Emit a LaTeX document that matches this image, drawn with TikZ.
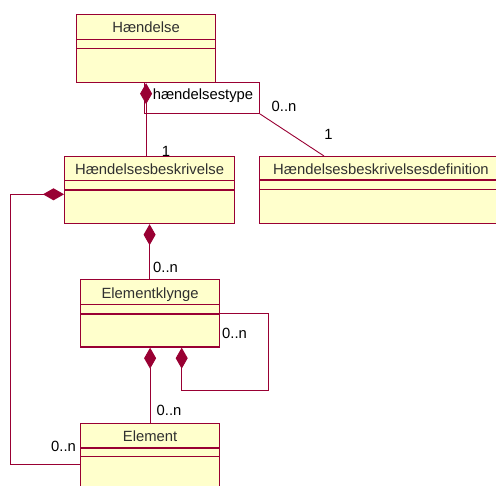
\documentclass[tikz,border=0pt]{standalone}
\usepackage{fontspec}
\setmainfont{Liberation Sans}
\usetikzlibrary{arrows.meta,calc}
\definecolor{umlred}{HTML}{990033}
\definecolor{umlfill}{HTML}{FFFFCC}
\definecolor{umltext}{HTML}{303030}
\begin{document}
\begin{tikzpicture}[x=1pt,y=-1pt,
  every node/.style={font=\fontsize{14.8}{17}\selectfont},
  cls/.style={draw=umlred, fill=umlfill, line width=1.2pt, inner sep=0pt, anchor=north west},
  sep/.style={draw=umlred, line width=1.2pt},
  clsname/.style={anchor=base, text=umltext, inner sep=0pt},
  mult/.style={anchor=base, inner sep=0pt},
  conn/.style={draw=umlred, line width=0.9pt},
  comp/.style={conn, {Diamond[length=21pt,width=12pt,fill=umlred]}-},
]
\useasboundingbox (0,0) rectangle (496,486);
\begin{scope}
\clip (0,0) rectangle (496,486);

% classes
\node[cls, minimum width=139pt, minimum height=68pt] (hand) at (76,14) {};
\node[clsname] at ($(hand.north)+(0,18.7)$) {Hændelse};
\draw[sep] ($(hand.north west)+(0,25.3)$) -- ($(hand.north east)+(0,25.3)$);
\draw[sep] ($(hand.north west)+(0,34.7)$) -- ($(hand.north east)+(0,34.7)$);

\node[cls, minimum width=170pt, minimum height=67pt] (hb) at (64,156) {};
\node[clsname] at ($(hb.north)+(0,19)$) {Hændelsesbeskrivelse};
\draw[sep] ($(hb.north west)+(0,24.7)$) -- ($(hb.north east)+(0,24.7)$);
\draw[sep] ($(hb.north west)+(0,34)$) -- ($(hb.north east)+(0,34)$);

\node[cls, minimum width=250pt, minimum height=67pt] (hbd) at (259,156) {};
\node[clsname] at ($(hbd.north west)+(122,18.3)$) {Hændelsesbeskrivelsesdefinition};
\draw[sep] ($(hbd.north west)+(0,24)$) -- ($(hbd.north east)+(0,24)$);
\draw[sep] ($(hbd.north west)+(0,33.3)$) -- ($(hbd.north east)+(0,33.3)$);

\node[cls, minimum width=139pt, minimum height=67.5pt] (ek) at (80,279) {};
\node[clsname] at ($(ek.north)+(0,19.3)$) {Elementklynge};
\draw[sep] ($(ek.north west)+(0,25.5)$) -- ($(ek.north east)+(0,25.5)$);
\draw[sep] ($(ek.north west)+(0,35)$) -- ($(ek.north east)+(0,35)$);

\node[cls, minimum width=139pt, minimum height=95pt] (el) at (80,423) {};
\node[clsname] at ($(el.north)+(0,18.7)$) {Element};
\draw[sep] ($(el.north west)+(0,25)$) -- ($(el.north east)+(0,25)$);
\draw[sep] ($(el.north west)+(0,33.5)$) -- ($(el.north east)+(0,33.5)$);

% association name
\node[draw=umlred, fill=white, line width=0.9pt, minimum width=115pt, minimum height=31pt,
      inner sep=0pt, anchor=north west] (assoc) at (144,82) {};
\node[anchor=base, inner sep=0pt] at (203,100) {hændelsestype};

% Hændelse <>-- Hændelsesbeskrivelse
\draw[comp] (hand.south) -- (hand.south |- hb.north);
% hændelsestype -- Hændelsesbeskrivelsesdefinition
\coordinate (hbdtop) at ($(hbd.north west)+(65,0)$);
\draw[conn] (assoc.south east) -- (hbdtop);

% Hændelsesbeskrivelse <>-- Elementklynge
\draw[comp] (hb.south) -- (hb.south |- ek.north);

% Hændelsesbeskrivelse <>-- Element (left route)
\coordinate (hbl) at ($(hb.north west)+(0,38.3)$);
\coordinate (ell) at ($(el.north west)+(0,41.3)$);
\draw[comp] (hbl) -- (10.7,194.3) -- (10.7,464.3) -- (ell);

% Elementklynge <>-- Element
\draw[comp] (ek.south) -- (ek.south |- el.north);

% Elementklynge self association
\coordinate (ekr) at ($(ek.north east)+(0,34.3)$);
\coordinate (ekb) at ($(ek.south west)+(101.7,0)$);
\draw[comp] (ekb) -- (181.7,390.7) -- (268.3,390.7) -- (268.3,313.3) -- (ekr);

% multiplicities
\node[mult] at (166,157) {1};
\node[mult] at (284,111.7) {0..n};
\node[mult] at (328.5,139.3) {1};
\node[mult] at (165.5,272.7) {0..n};
\node[mult] at (234.5,338.3) {0..n};
\node[mult] at (169,416) {0..n};
\node[mult] at (63.5,451.7) {0..n};
\end{scope}
\end{tikzpicture}
\end{document}
